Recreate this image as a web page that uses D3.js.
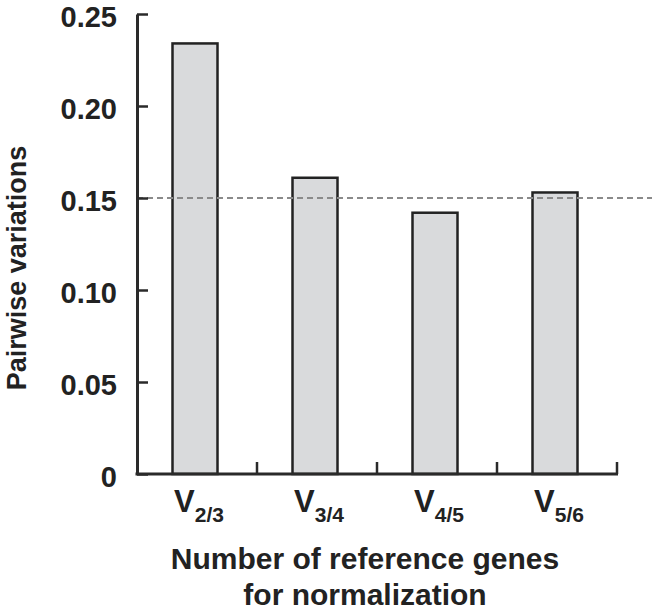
<!DOCTYPE html>
<html>
<head>
<meta charset="utf-8">
<script src="https://cdn.jsdelivr.net/npm/d3@7"></script>
<style>
  html, body { margin: 0; padding: 0; background: #fff; }
  svg { display: block; font-family: "Liberation Sans", Arial, sans-serif; font-weight: bold; }
</style>
</head>
<body>
<svg id="chart" width="657" height="613"></svg>
<script>
const categories = ["V2/3", "V3/4", "V4/5", "V5/6"];
const labelMain = ["V", "V", "V", "V"];
const labelSub = ["2/3", "3/4", "4/5", "5/6"];
const values = [0.234, 0.161, 0.142, 0.153];
const yTicks = [0, 0.05, 0.10, 0.15, 0.20, 0.25];
const yTickLabels = ["0", "0.05", "0.10", "0.15", "0.20", "0.25"];
const threshold = 0.15;
const yTitle = "Pairwise variations";
const xTitle = ["Number of reference genes", "for normalization"];

const svg = d3.select("#chart");
const mLeft = 137, mRight = 617, mTop = 14, mBottom = 474;
const ink = "#2a2a2a";

const x = d3.scaleBand().domain(categories).range([mLeft, mRight]).paddingInner(0.625).paddingOuter(0.3125);
const y = d3.scaleLinear().domain([0, 0.25]).range([mBottom, mTop]);

// bars
svg.append("g").selectAll("rect").data(values).join("rect")
  .attr("x", (d, i) => x(categories[i]) - 2)
  .attr("y", d => y(d))
  .attr("width", x.bandwidth())
  .attr("height", d => y(0) - y(d))
  .attr("fill", "#d9dadc")
  .attr("stroke", "#222")
  .attr("stroke-width", 2.5);

// threshold line
svg.append("line")
  .attr("x1", mLeft).attr("x2", 652)
  .attr("y1", y(threshold)).attr("y2", y(threshold))
  .attr("stroke", "#8a8a8a").attr("stroke-width", 2)
  .attr("stroke-dasharray", "6,4");

// y axis
const yAxis = d3.axisLeft(y).tickValues(yTicks)
  .tickFormat((d, i) => yTickLabels[i])
  .tickSizeInner(-11).tickSizeOuter(0).tickPadding(20);
const gy = svg.append("g").attr("transform", `translate(${mLeft},0)`).call(yAxis);
gy.select(".domain").attr("stroke", ink).attr("stroke-width", 3);
gy.selectAll(".tick line").attr("stroke", ink).attr("stroke-width", 2.5);
gy.selectAll(".tick text").attr("fill", "#222").attr("dy", "0.44em").style("font-size", "29px")
  .style("font-family", "Liberation Sans, Arial, sans-serif").style("font-weight", "bold");

// x axis baseline
svg.append("line").attr("x1", mLeft - 1.5).attr("x2", mRight + 1).attr("y1", mBottom).attr("y2", mBottom)
  .attr("stroke", ink).attr("stroke-width", 3);
// x ticks at band boundaries
const gapHalf = (x.step() - x.bandwidth()) / 2;
svg.append("g").selectAll("line").data(categories).join("line")
  .attr("x1", d => x(d) + x.bandwidth() + gapHalf)
  .attr("x2", d => x(d) + x.bandwidth() + gapHalf)
  .attr("y1", mBottom).attr("y2", mBottom - 12)
  .attr("stroke", ink).attr("stroke-width", 2.5);

// x category labels
const lab = svg.append("g").selectAll("text").data(categories).join("text")
  .attr("x", d => x(d) + x.bandwidth() / 2 + 2)
  .attr("y", 512)
  .attr("text-anchor", "middle")
  .attr("fill", "#222");
lab.append("tspan").style("font-size", "31px").text((d, i) => labelMain[i]);
lab.append("tspan").style("font-size", "21px").attr("dy", 10).text((d, i) => labelSub[i]);

// y title
svg.append("text")
  .attr("transform", "translate(26,268) rotate(-90)")
  .attr("text-anchor", "middle")
  .attr("fill", "#222")
  .style("font-size", "27px")
  .text(yTitle);

// x title
svg.append("g").selectAll("text").data(xTitle).join("text")
  .attr("x", 365)
  .attr("y", (d, i) => 569 + i * 36)
  .attr("text-anchor", "middle")
  .attr("fill", "#222")
  .style("font-size", "30px")
  .text(d => d);
</script>
</body>
</html>
